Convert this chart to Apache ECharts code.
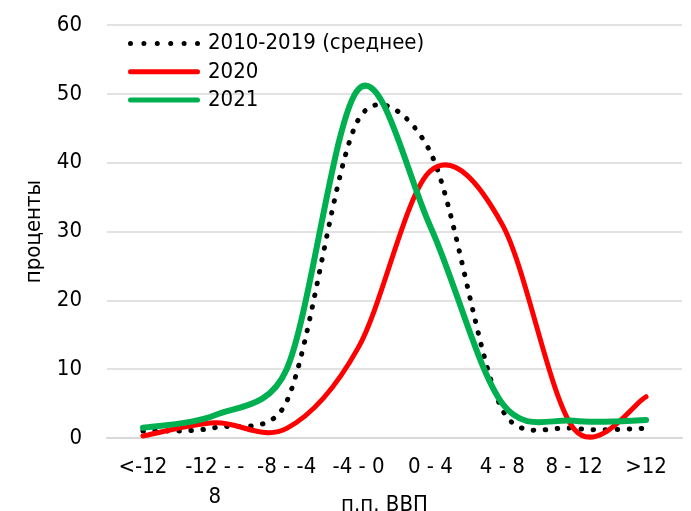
<!DOCTYPE html>
<html><head><meta charset="utf-8">
<script src="https://cdn.jsdelivr.net/npm/echarts@6/dist/echarts.min.js"></script>
<style>html,body{margin:0;padding:0;background:#fff}#c{width:691px;height:511px}</style>
</head><body><div id="c"></div>
<script>
var categories = ['<-12', '-12 - -8', '-8 - -4', '-4 - 0', '0 - 4', '4 - 8', '8 - 12', '>12'];
var xTickLabels = ['<-12', '-12 - -\n8', '-8 - -4', '-4 - 0', '0 - 4', '4 - 8', '8 - 12', '>12'];
var avg2010_2019 = [1.0, 1.5, 5.3, 46.3, 41.5, 4.1, 1.4, 1.4];
var y2020 = [0.3, 2.2, 1.4, 13.2, 38.8, 31, 1.3, 6.0];
var y2021 = [1.5, 3.3, 10, 50.7, 30.7, 5.0, 2.5, 2.6];
var yTicks = [0, 10, 20, 30, 40, 50, 60];
var seriesNames = ['2010-2019 (среднее)', '2020', '2021'];

var FONT = '"DejaVu Sans Condensed", "DejaVu Sans", sans-serif';

// Excel-style smoothed path through pixel points (Bezier with limited tangents)
function smoothPath(pts) {
  function dist(a, b) { var dx = a[0] - b[0], dy = a[1] - b[1]; return Math.sqrt(dx * dx + dy * dy); }
  var n = pts.length;
  var d = 'M' + pts[0][0] + ',' + pts[0][1];
  for (var i = 0; i < n - 1; i++) {
    var p0 = pts[Math.max(i - 1, 0)], p1 = pts[i], p2 = pts[i + 1], p3 = pts[Math.min(i + 2, n - 1)];
    var d12 = dist(p1, p2), d02 = dist(p0, p2), d13 = dist(p1, p3);
    var f1 = (d02 / 6 < d12 / 2) ? 1 / 6 : d12 / d02 / 2;
    var f2 = (d13 / 6 < d12 / 2) ? 1 / 6 : d12 / d13 / 2;
    var b1 = [p1[0] + (p2[0] - p0[0]) * f1, p1[1] + (p2[1] - p0[1]) * f1];
    var b2 = [p2[0] - (p3[0] - p1[0]) * f2, p2[1] - (p3[1] - p1[1]) * f2];
    d += ' C' + b1[0] + ',' + b1[1] + ' ' + b2[0] + ',' + b2[1] + ' ' + p2[0] + ',' + p2[1];
  }
  return d;
}

function curveSeries(name, values, color, width, dash, z) {
  return {
    name: name, type: 'custom', z: z,
    data: values.map(function (v, i) { return [i, v]; }),
    encode: {x: 0, y: 1},
    itemStyle: {color: color},
    renderItem: function (params, api) {
      if (params.dataIndex !== 0) return null;
      var pts = values.map(function (v, i) { return api.coord([i, v]); });
      var style = {fill: null, stroke: color, lineWidth: width, lineCap: 'round', lineJoin: 'round'};
      if (dash) style.lineDash = dash;
      return {type: 'path', shape: {pathData: smoothPath(pts)}, style: style};
    }
  };
}

// legend icons
var dotIcon = 'path://';
for (var k = 0; k < 6; k++) {
  var cx = 2.5 + k * 13.4;
  dotIcon += 'M' + (cx - 2.5) + ',2.5 a2.5,2.5 0 1,0 5,0 a2.5,2.5 0 1,0 -5,0 ';
}
var barIcon = 'path://M2.5,0 L69.5,0 A2.5,2.5 0 0,1 69.5,5 L2.5,5 A2.5,2.5 0 0,1 2.5,0 Z';

var chart = echarts.init(document.getElementById('c'), null, {renderer: 'canvas'});
chart.setOption({
  animation: false,
  backgroundColor: '#fff',
  textStyle: {fontFamily: FONT},
  grid: {left: 107, right: 9, top: 25, bottom: 73, containLabel: false, outerBoundsMode: 'none'},
  legend: {
    left: 123, top: 26, orient: 'vertical',
    itemWidth: 72, itemHeight: 5, itemGap: 3.3,
    textStyle: {fontFamily: FONT, fontSize: 22, color: '#000', lineHeight: 25, padding: [0, 0, 0, 3]},
    data: [
      {name: seriesNames[0], icon: dotIcon},
      {name: seriesNames[1], icon: barIcon},
      {name: seriesNames[2], icon: barIcon}
    ]
  },
  xAxis: {
    type: 'category', data: categories, boundaryGap: true,
    axisLine: {show: true, lineStyle: {color: '#d9d9d9', width: 2}},
    axisTick: {show: false},
    splitLine: {show: false},
    axisLabel: {
      interval: 0, color: '#000', fontFamily: FONT, fontSize: 22, lineHeight: 30, margin: 14.5,
      formatter: function (v, i) { return xTickLabels[i]; }
    },
    name: 'п.п. ВВП', nameLocation: 'middle', nameGap: 56, nameMoveOverlap: false,
    nameTextStyle: {color: '#000', fontFamily: FONT, fontSize: 22, padding: [0, 20, 0, 0]}
  },
  yAxis: {
    type: 'value', min: yTicks[0], max: yTicks[yTicks.length - 1], interval: 10,
    axisLine: {show: false}, axisTick: {show: false},
    splitLine: {show: true, lineStyle: {color: '#d9d9d9', width: 1.5}},
    axisLabel: {color: '#000', fontFamily: FONT, fontSize: 22, margin: 25},
    name: 'проценты', nameLocation: 'middle', nameGap: 62, nameRotate: 90,
    nameTextStyle: {color: '#000', fontFamily: FONT, fontSize: 22}
  },
  series: [
    curveSeries(seriesNames[0], avg2010_2019, '#000000', 5, [0.5, 11.5], 3),
    curveSeries(seriesNames[1], y2020, '#ff0000', 5, null, 4),
    curveSeries(seriesNames[2], y2021, '#00b050', 6, null, 5)
  ]
});
</script></body></html>
